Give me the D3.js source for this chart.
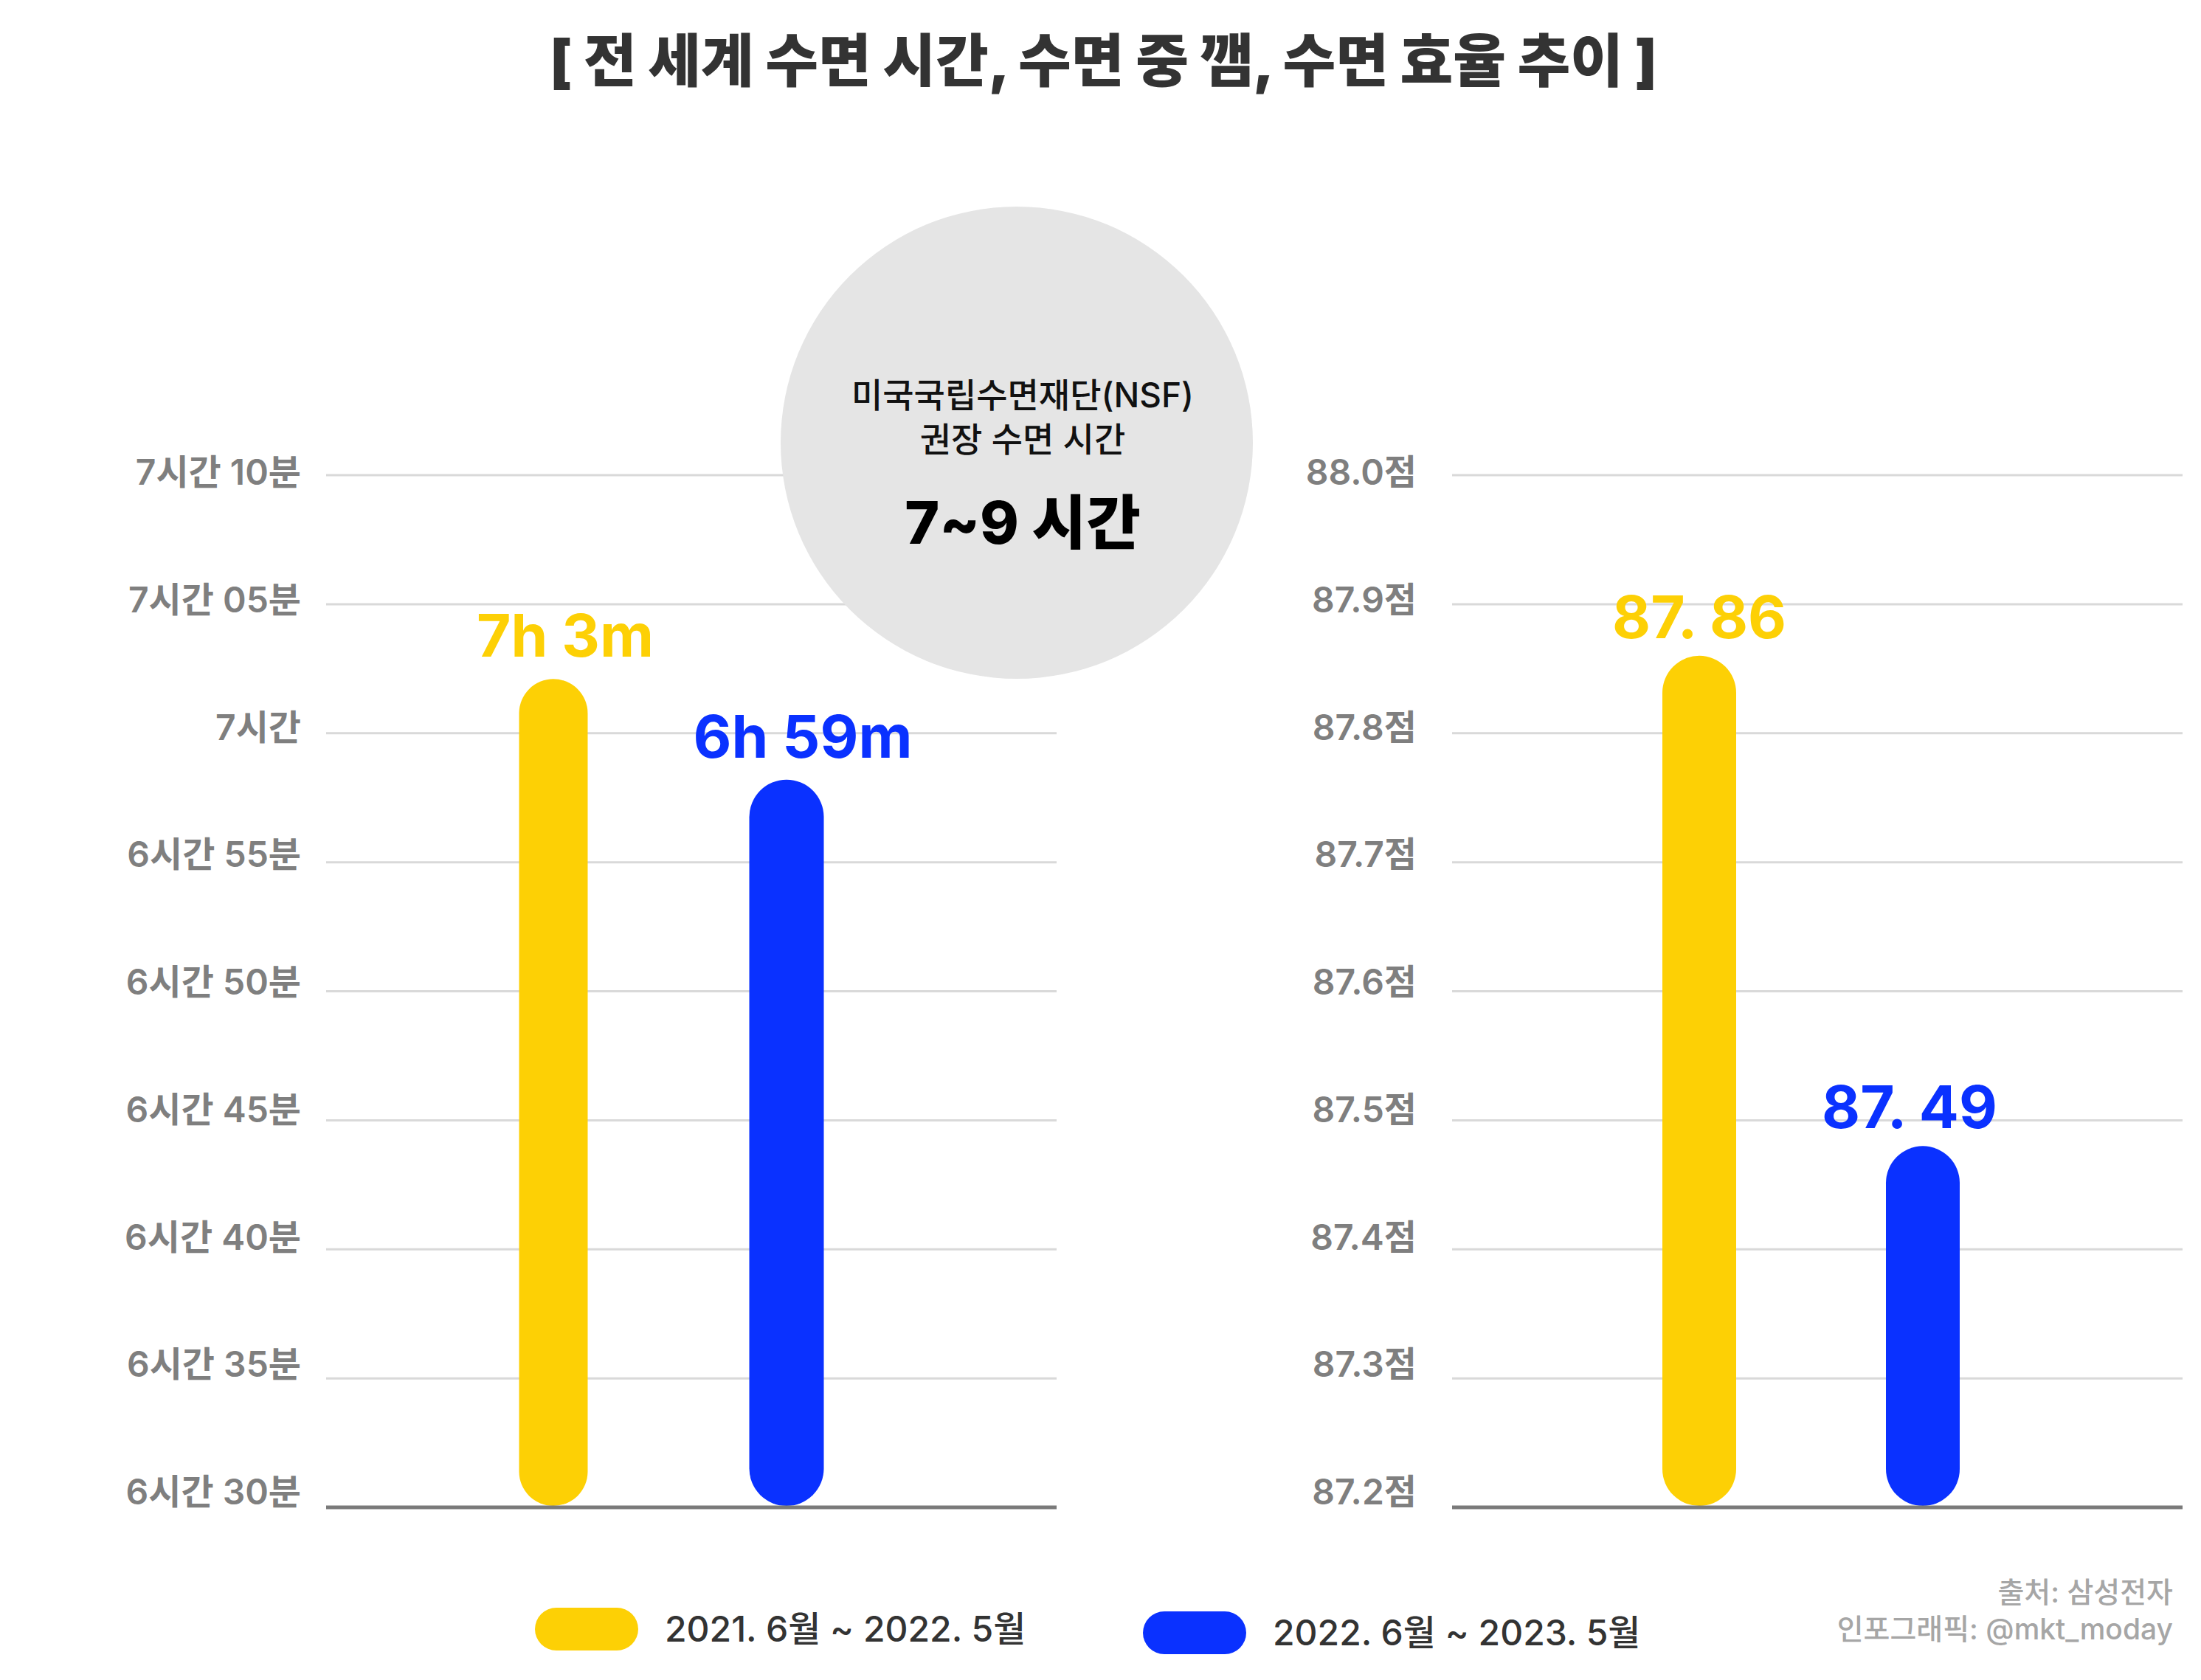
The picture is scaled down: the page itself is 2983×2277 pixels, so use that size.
<!DOCTYPE html>
<html>
<head>
<meta charset="utf-8">
<script src="https://cdn.jsdelivr.net/npm/d3@7"></script>
<style>
  html, body { margin: 0; padding: 0; background: #ffffff; }
  svg { display: block; }
  text { font-family: Inter, "Noto Sans CJK KR", sans-serif; }
</style>
</head>
<body>
<script>
// ---------------- data ----------------
const title = "[ 전 세계 수면 시간, 수면 중 깸, 수면 효율 추이 ]";
const periods = ["2021. 6월 ~ 2022. 5월", "2022. 6월 ~ 2023. 5월"];
const seriesColors = ["#FDD005", "#0A31FF"];

// left: sleep time in minutes and their printed labels
const sleepMinutes = [422.1, 418.2];
const sleepLabels = ["7h 3m", "6h 59m"];
const sleepTicks = [390, 395, 400, 405, 410, 415, 420, 425, 430];
const sleepTickLabels = ["6시간 30분", "6시간 35분", "6시간 40분", "6시간 45분", "6시간 50분",
                         "6시간 55분", "7시간", "7시간 05분", "7시간 10분"];

// right: sleep efficiency score
const efficiency = [87.86, 87.48];
const efficiencyLabels = ["87. 86", "87. 49"];
const effTicks = [87.2, 87.3, 87.4, 87.5, 87.6, 87.7, 87.8, 87.9, 88.0];
const effTickLabels = ["87.2점", "87.3점", "87.4점", "87.5점", "87.6점", "87.7점", "87.8점", "87.9점", "88.0점"];

const calloutLines = ["미국국립수면재단(NSF)", "권장 수면 시간"];
const calloutValue = "7~9 시간";
const sourceLines = ["출처: 삼성전자", "인포그래픽: @mkt_moday"];

// ---------------- layout ----------------
const W = 2983, H = 2277;
const yTop = 644, yBase = 2043;
const labelTop = 640, labelBase = 2022;
const panels = [
  { x0: 442, x1: 1432, slot: [750, 1066], widths: [93, 101], labelDx: [16, 22], labelGap: 30,
    domain: [390, 430], ticks: sleepTicks, tickLabels: sleepTickLabels, values: sleepMinutes,
    labels: sleepLabels, tickRight: 408 },
  { x0: 1968, x1: 2958, slot: [2303, 2606], widths: [100, 100], labelDx: [0, -18], labelGap: 24,
    domain: [87.2, 88.0], ticks: effTicks, tickLabels: effTickLabels, values: efficiency,
    labels: efficiencyLabels, tickRight: 1920 }
];

const svg = d3.select("body").append("svg")
  .attr("width", W).attr("height", H).attr("viewBox", `0 0 ${W} ${H}`);

svg.append("rect").attr("width", W).attr("height", H).attr("fill", "#ffffff");

// title
svg.append("text")
  .attr("x", W / 2 + 4).attr("y", 111)
  .attr("text-anchor", "middle")
  .attr("font-family", "'Noto Sans CJK KR', sans-serif")
  .attr("font-size", 78).attr("font-weight", 900)
  .attr("fill", "#333333")
  .text(title);

panels.forEach(p => {
  const g = svg.append("g");
  const y = d3.scaleLinear().domain(p.domain).range([yBase, yTop]);
  const yLab = d3.scaleLinear().domain(p.domain).range([labelBase, labelTop]);
  const x = d3.scalePoint().domain(periods).range(p.slot);

  // gridlines (not the baseline)
  g.selectAll("line.grid").data(p.ticks.slice(1)).join("line")
    .attr("class", "grid")
    .attr("x1", p.x0).attr("x2", p.x1)
    .attr("y1", d => y(d)).attr("y2", d => y(d))
    .attr("stroke", "#d9d9d9").attr("stroke-width", 3);

  // tick labels
  g.selectAll("text.tick").data(p.ticks).join("text")
    .attr("class", "tick")
    .attr("x", p.tickRight)
    .attr("y", d => yLab(d) + 17)
    .attr("text-anchor", "end")
    .attr("font-size", 48).attr("font-weight", 600)
    .attr("fill", "#7f7f7f")
    .text((d, i) => p.tickLabels[i]);

  p.g = g; p.y = y; p.x = x;
});

// callout circle (drawn over the gridlines)
const callout = svg.append("g");
callout.append("circle").attr("cx", 1378).attr("cy", 600).attr("r", 320).attr("fill", "#e5e5e5");
callout.selectAll("text.cl").data(calloutLines).join("text")
  .attr("class", "cl")
  .attr("x", 1386).attr("y", (d, i) => 552 + i * 60)
  .attr("text-anchor", "middle")
  .attr("font-size", 46).attr("font-weight", 500)
  .attr("fill", "#111111")
  .text(d => d);
callout.append("text")
  .attr("x", 1386).attr("y", 737)
  .attr("text-anchor", "middle")
  .attr("font-size", 80).attr("font-weight", 800)
  .attr("fill", "#000000")
  .text(calloutValue);

panels.forEach(p => {
  const g = svg.append("g");
  const { x, y } = p;
  const rows = periods.map((k, i) => ({ k, i, v: p.values[i], label: p.labels[i] }));

  g.selectAll("rect.bar").data(rows).join("rect")
    .attr("class", "bar")
    .attr("x", d => x(d.k) - p.widths[d.i] / 2)
    .attr("width", d => p.widths[d.i])
    .attr("y", d => y(d.v))
    .attr("height", d => yBase - 2 - y(d.v))
    .attr("rx", d => p.widths[d.i] / 2)
    .attr("fill", d => seriesColors[d.i]);

  g.selectAll("text.val").data(rows).join("text")
    .attr("class", "val")
    .attr("x", d => x(d.k) + p.labelDx[d.i])
    .attr("y", d => y(d.v) - p.labelGap)
    .attr("text-anchor", "middle")
    .attr("font-size", 80).attr("font-weight", 700)
    .attr("fill", d => seriesColors[d.i])
    .text(d => d.label);

  // baseline
  g.append("line")
    .attr("x1", p.x0).attr("x2", p.x1)
    .attr("y1", yBase).attr("y2", yBase)
    .attr("stroke", "#7a7a7a").attr("stroke-width", 5);
});

// legend
const legendPos = [{ x: 725, y: 2179 }, { x: 1549, y: 2184 }];
const leg = svg.append("g");
const items = leg.selectAll("g.item").data(periods).join("g")
  .attr("class", "item")
  .attr("transform", (d, i) => `translate(${legendPos[i].x},${legendPos[i].y})`);
items.append("rect")
  .attr("width", 140).attr("height", 58).attr("rx", 29)
  .attr("fill", (d, i) => seriesColors[i]);
items.append("text")
  .attr("x", 176).attr("y", 46)
  .attr("font-size", 48).attr("font-weight", 500)
  .attr("fill", "#333333")
  .text(d => d);

// source
svg.selectAll("text.src").data(sourceLines).join("text")
  .attr("class", "src")
  .attr("x", 2945).attr("y", (d, i) => 2172 + i * 50)
  .attr("text-anchor", "end")
  .attr("font-size", 39).attr("font-weight", 500)
  .attr("fill", "#a6a6a6")
  .text(d => d);
</script>
</body>
</html>
